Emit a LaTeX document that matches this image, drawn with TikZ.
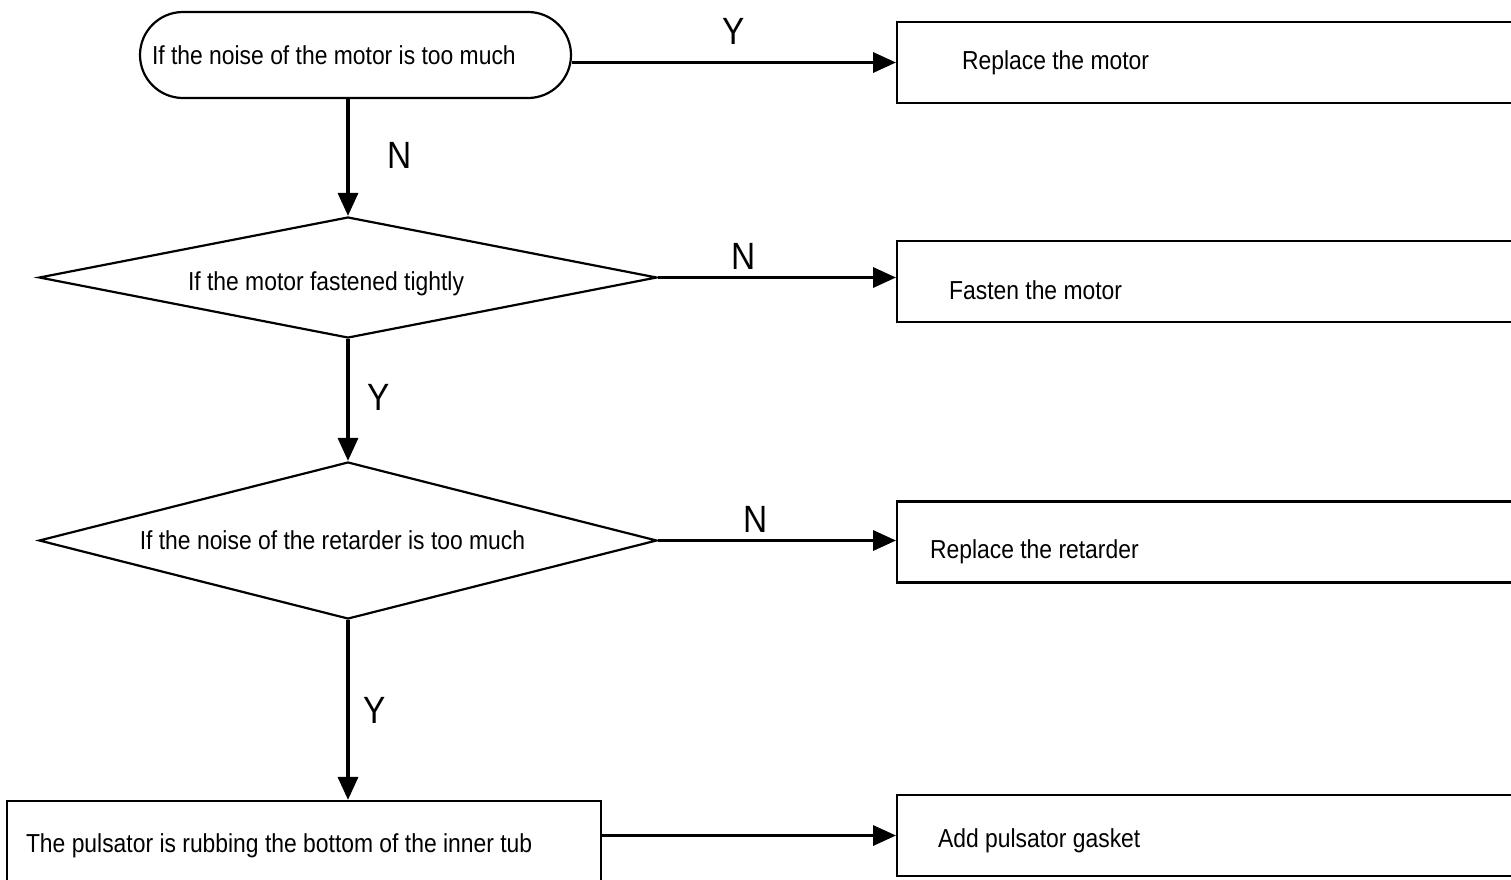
\documentclass[tikz,border=0pt]{standalone}
\usepackage{fontspec}
\setmainfont{Liberation Sans}[FakeStretch=0.88]
\usetikzlibrary{shapes.geometric,arrows.meta,positioning}
\newcommand{\textSize}{\fontsize{26}{30}\selectfont}
\newcommand{\labelSize}{\fontsize{38}{44}\selectfont}
\newcommand{\plainSpaces}{\spaceskip=0pt\xspaceskip=0pt}
\newcommand{\boxLeft}{896}
\newcommand{\boxHeight}{81pt}
\newcommand{\boxTextWidth}{560pt}
\tikzset{
	flowline/.style={line width=3.4pt, -{Triangle[length=23pt,width=20pt]}},
	textbox/.style={draw, line width=2.2pt, font=\textSize, execute at begin node=\plainSpaces},
	startbox/.style={textbox, rounded corners=43pt, minimum width=431pt, minimum height=86pt, text width=407pt, inner xsep=12pt},
	decisionbox/.style={draw, diamond, line width=2.2pt, minimum width=618pt, inner sep=0pt, font=\textSize},
	actionbox/.style 2 args={textbox, minimum height=\boxHeight, text width=\boxTextWidth, inner xsep=#1, text height=#2, text depth=0pt, anchor=west},
	yesno/.style={font=\labelSize, inner sep=2pt}
}
\begin{document}
\begin{tikzpicture}[x=1pt,y=-1pt]
	\useasboundingbox (0,0) rectangle (1511,879);
	\clip (0,0) rectangle (1511,879);

	% left column: checks
	\node[startbox] (noiseMotor) at (355.5,55) {If the noise of the motor is too much};
	\node[decisionbox, aspect=5.1, minimum height=121pt, text height=25.5pt, text depth=0pt] (fastenMotor) at (348,277.5) {\hspace*{-44pt}If the motor fastened tightly};
	\node[decisionbox, aspect=3.94, minimum height=157pt] (noiseRetarder) at (348,540.5) {\hspace*{-31pt}If the noise of the retarder is too much};
	\node[textbox, minimum width=594pt, minimum height=90pt, text width=556pt, inner xsep=19pt] (pulsatorRub) at (304,846) {The pulsator is rubbing the bottom of the inner tub};

	% right column: repairs
	\node[actionbox={65pt}{14pt}] (replaceMotor) at (\boxLeft,62.5) {Replace the motor};
	\node[actionbox={52pt}{36pt}] (fastenAction) at (\boxLeft,281.5) {Fasten the motor};
	\node[actionbox={33pt}{33pt}] (replaceRetarder) at (\boxLeft,542) {Replace the retarder};
	\node[actionbox={41pt}{24pt}] (addGasket) at (\boxLeft,835.5) {Add pulsator gasket};

	% connectors
	\draw[flowline] (replaceMotor.west -| noiseMotor.east) -- node[yesno, above=14pt] (yesMotor) {Y} (replaceMotor.west);
	\draw[flowline] (noiseMotor.south -| fastenMotor.north) -- node[yesno, right=36pt, pos=.48] (noMotor) {N} (fastenMotor.north);
	\draw[flowline] (fastenMotor.east) -- node[yesno, above=4pt, pos=.36] (noFasten) {N} (fastenMotor.east -| fastenAction.west);
	\draw[flowline] (fastenMotor.south) -- node[yesno, right=16pt, pos=.48] (yesFasten) {Y} (noiseRetarder.north);
	\draw[flowline] (noiseRetarder.east) -- node[yesno, above=4pt, pos=.41] (noRetarder) {N} (noiseRetarder.east -| replaceRetarder.west);
	\draw[flowline] (noiseRetarder.south) -- node[yesno, right=12pt, pos=.5] (yesRetarder) {Y} (pulsatorRub.north -| noiseRetarder.south);
	\draw[flowline] (addGasket.west -| pulsatorRub.east) -- (addGasket.west);
\end{tikzpicture}
\end{document}
